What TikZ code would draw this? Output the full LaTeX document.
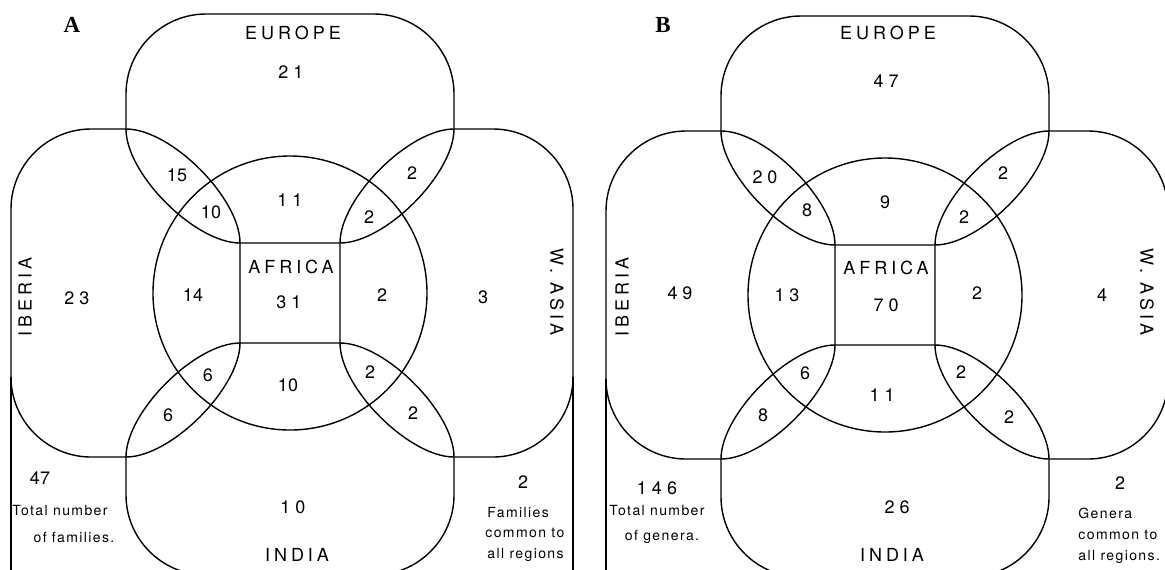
\documentclass[tikz,border=0pt]{standalone}
\usepackage{fontspec}
\newfontfamily\hv{TeX Gyre Heros}
\newfontfamily\hvsp{TeX Gyre Heros}[LetterSpace=22]
\newfontfamily\hvsm{TeX Gyre Heros}[LetterSpace=10]
\newfontfamily\tms{Liberation Serif}
\tikzset{
  region/.style={draw=black, line width=0.7pt},
  num/.style={inner sep=0pt, font=\hv\fontsize{9}{10}\selectfont},
  lab/.style={inner sep=0pt, font=\hvsp\fontsize{9}{10}\selectfont},
  note/.style={inner sep=0pt, font=\hvsm\fontsize{7}{8}\selectfont},
  plabel/.style={inner sep=0pt, font=\tms\bfseries\fontsize{11.5}{12}\selectfont},
}
\newcommand\panelshapes{%
  % Europe
  \draw[region] (-164,-164) -- (-164,-199) .. controls (-164,-243) and (-128,-279) .. (-84,-279)
    -- (84,-279) .. controls (128,-279) and (164,-243) .. (164,-199) -- (164,-164)
    .. controls (164,-119) and (95,-50) .. (50,-50) -- (-50,-50)
    .. controls (-95,-50) and (-164,-119) .. (-164,-164) -- cycle;
  % Iberia
  \draw[region] (-164,-164) -- (-199,-164) .. controls (-243,-164) and (-279,-128) .. (-279,-84)
    -- (-279,84) .. controls (-279,128) and (-243,164) .. (-199,164) -- (-164,164)
    .. controls (-119,164) and (-50,95) .. (-50,50) -- (-50,-50)
    .. controls (-50,-95) and (-119,-164) .. (-164,-164) -- cycle;
  % W. Asia
  \draw[region] (164,-164) -- (203,-164) .. controls (247,-164) and (283,-128) .. (283,-84)
    -- (283,84) .. controls (283,128) and (247,164) .. (203,164) -- (164,164)
    .. controls (119,164) and (50,95) .. (50,50) -- (50,-50)
    .. controls (50,-95) and (119,-164) .. (164,-164) -- cycle;
  % India
  \draw[region] (-164,164) -- (-164,202) .. controls (-164,246) and (-128,282) .. (-84,282)
    -- (84,282) .. controls (128,282) and (164,246) .. (164,202) -- (164,164)
    .. controls (164,119) and (95,50) .. (50,50) -- (-50,50)
    .. controls (-95,50) and (-164,119) .. (-164,164) -- cycle;
  % Africa
  \draw[region] (0,0) circle[radius=68.5pt];
  % frame lines
  \coordinate (fl1) at (-279,84);
  \coordinate (fl2) at (-279,300);
  \coordinate (fr1) at (283,84);
  \coordinate (fr2) at (283,300);
  \draw[region] (fl1) -- (fl2);
  \draw[region] (fr1) -- (fr2);
}
\begin{document}
\begin{tikzpicture}[x=0.5pt,y=-0.5pt]
\useasboundingbox (0,0) rectangle (1165,569);
\clip (0,0) rectangle (1165,569);
\begin{scope}[shift={(290,293)}]\panelshapes\end{scope}
\begin{scope}[shift={(885,295)}]\panelshapes\end{scope}

% ---------- Panel A ----------
\node[plabel] (pA) at (72,25) {A};
\node[lab] (aEur) at (293,33) {EUROPE};
\node[num] (a21) at (291,72) {2 1};
\node[num] (a15) at (177,175) {15};
\node[num] (a10a) at (211,212) {10};
\node[num] (a11) at (290,200) {1 1};
\node[num] (a2a) at (412,173) {2};
\node[num] (a2b) at (369,217) {2};
\node[lab] (aAfr) at (291,267) {AFRICA};
\node[num] (a31) at (289,302) {3 1};
\node[num] (a14) at (193,295) {14};
\node[num] (a23) at (77,298) {2 3};
\node[lab, rotate=90] (aIbe) at (25,297) {IBERIA};
\node[lab, rotate=-90] (aAsia) at (557,292) {W. ASIA};
\node[num] (a3) at (483,297) {3};
\node[num] (a2c) at (382,295) {2};
\node[num] (a10b) at (288,385) {10};
\node[num] (a2d) at (370,372) {2};
\node[num] (a2e) at (413,413) {2};
\node[num] (a6a) at (208,375) {6};
\node[num] (a6b) at (168,415) {6};
\node[num] (a47) at (40,478) {47};
\node[note] (aTot1) at (60,510) {Total number};
\node[note] (aTot2) at (74,537) {of families.};
\node[num] (a10c) at (293,507) {1 0};
\node[lab] (aInd) at (297,555) {INDIA};
\node[num] (a2f) at (523,482) {2};
\node[note, anchor=west] (aCom1) at (487,512) {Families};
\node[note, anchor=west] (aCom2) at (485,533) {common to};
\node[note, anchor=west] (aCom3) at (487,555) {all regions};

% ---------- Panel B ----------
\node[plabel] (pB) at (663,25) {B};
\node[lab] (bEur) at (888,33) {EUROPE};
\node[num] (b47) at (886,81) {4 7};
\node[num] (b20) at (765,177) {2 0};
\node[num] (b8a) at (807,210) {8};
\node[num] (b9) at (885,202) {9};
\node[num] (b2a) at (1003,173) {2};
\node[num] (b2b) at (964,217) {2};
\node[lab] (bAfr) at (886,268) {AFRICA};
\node[num] (b70) at (886,305) {7 0};
\node[num] (b13) at (787,295) {1 3};
\node[num] (b49) at (680,293) {4 9};
\node[lab, rotate=90] (bIbe) at (622,297) {IBERIA};
\node[lab, rotate=-90] (bAsia) at (1147,292) {W. ASIA};
\node[num] (b2c) at (977,293) {2};
\node[num] (b4) at (1102,295) {4};
\node[num] (b6) at (805,373) {6};
\node[num] (b8b) at (763,415) {8};
\node[num] (b11) at (882,395) {1 1};
\node[num] (b2d) at (961,372) {2};
\node[num] (b2e) at (1009,417) {2};
\node[num] (b146) at (657,488) {1 4 6};
\node[note] (bTot1) at (657,510) {Total number};
\node[note] (bTot2) at (662,537) {of genera.};
\node[num] (b26) at (897,507) {2 6};
\node[lab] (bInd) at (892,555) {INDIA};
\node[num] (b2f) at (1120,483) {2};
\node[note, anchor=west] (bCom1) at (1078,513) {Genera};
\node[note, anchor=west] (bCom2) at (1078,535) {common to};
\node[note, anchor=west] (bCom3) at (1078,557) {all regions.};
\end{tikzpicture}
\end{document}
